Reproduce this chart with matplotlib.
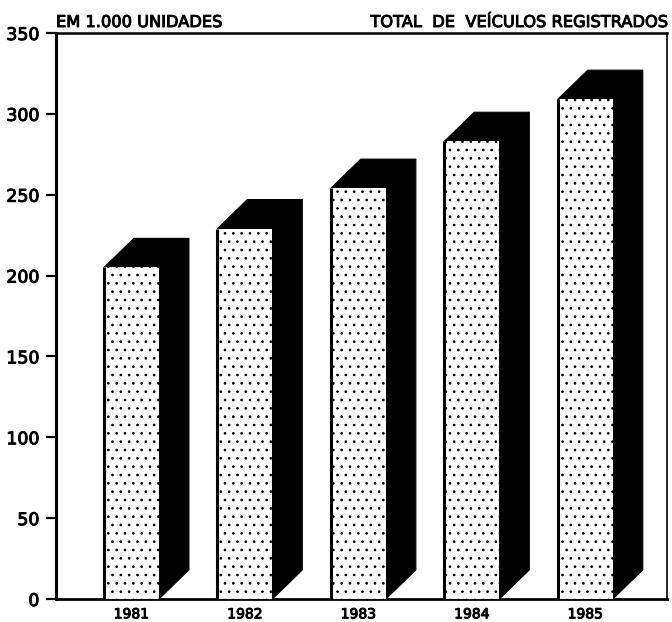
import matplotlib
matplotlib.use("Agg")
import matplotlib.pyplot as plt
from matplotlib.patches import Polygon
import matplotlib.patheffects as pe
import matplotlib as mpl

plt.rcParams['font.family'] = ['DejaVu Sans']
mpl.rcParams['hatch.linewidth'] = 0.7

years = ['1981', '1982', '1983', '1984', '1985']
values = [205, 229, 254, 283, 309]
y_ticks = [0, 50, 100, 150, 200, 250, 300, 350]
left_title = 'EM 1.000 UNIDADES'
right_title = 'TOTAL  DE  VEÍCULOS REGISTRADOS'

bar_width = 0.485
depth_x = 0.264
depth_y = 18
stroke = [pe.withStroke(linewidth=0.7, foreground='black')]

fig = plt.figure(figsize=(6.72, 6.22), dpi=100)
W, H = 672, 622
ax = fig.add_axes([56/W, 1-599/H, (667-56)/W, (599-33)/H])
ax.set_xlim(-0.665, 4.72)
ax.set_ylim(0, 350)

for i, v in enumerate(values):
    l, r = i - bar_width/2, i + bar_width/2
    ax.add_patch(Polygon([(r, 0), (r + depth_x, depth_y), (r + depth_x, v + depth_y),
                          (l + depth_x, v + depth_y), (l, v), (r, v)],
                         closed=True, fc='black', ec='black', lw=0.8, zorder=2, joinstyle='round'))
    ax.bar(i, v, width=bar_width, facecolor='white', edgecolor='black', hatch='..',
           linewidth=0, zorder=3)
    ax.plot([l, l], [0, v], color='black', lw=2.2, zorder=4, solid_capstyle='butt')

ax.set_xticks(range(len(years)))
ax.set_xticklabels(years, fontsize=10, path_effects=stroke)
ax.set_yticks(y_ticks)
ax.set_yticklabels([str(t) for t in y_ticks], fontsize=12.5, path_effects=stroke)
ax.tick_params(axis='x', length=0, pad=6)
ax.tick_params(axis='y', length=7, width=1.6, pad=5)
for s, lw in [('left', 2.2), ('bottom', 2), ('top', 1.8), ('right', 1.2)]:
    ax.spines[s].set_linewidth(lw)

fig.text(56/W, 1-27/H, left_title, fontsize=11.7, ha='left', va='baseline', path_effects=stroke)
fig.text(668/W, 1-27/H, right_title, fontsize=11.7, ha='right', va='baseline', path_effects=stroke)

fig.savefig('out.png', dpi=100)
